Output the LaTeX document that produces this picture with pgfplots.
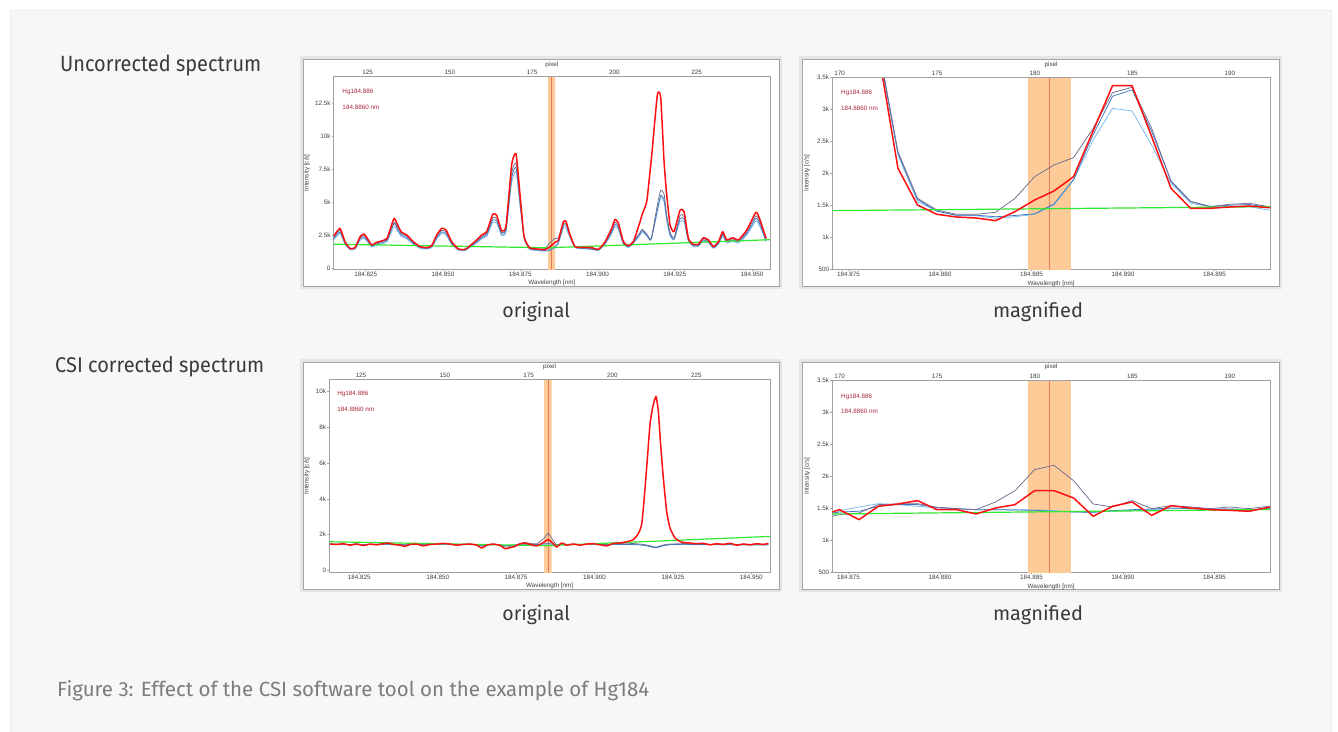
\documentclass[border=0pt]{standalone}
\usepackage{fontspec}
\usepackage{graphicx}
\usepackage{pgfplots}
\pgfplotsset{compat=1.18}
\usepackage{pgfplotstable}
\setmainfont{Fira Sans}
\newfontfamily\headfont{Fira Sans}
\newfontfamily\chartfont{Liberation Sans}
\newcommand\tickfont{\chartfont\fontsize{6.3}{7}\selectfont}

\definecolor{panelbg}{HTML}{F7F7F7}
\definecolor{panelbd}{HTML}{EBEBEB}
\definecolor{shadow}{HTML}{E6E6E6}
\definecolor{framebd}{HTML}{A4A4A4}
\definecolor{axgray}{HTML}{A0A0A0}
\definecolor{tickcol}{HTML}{404040}
\definecolor{headcol}{HTML}{3A3A3A}
\definecolor{capcol}{HTML}{7C7C7C}
\definecolor{hgred}{HTML}{A8283C}
\definecolor{redline}{HTML}{FF1010}
\definecolor{purpleline}{HTML}{716D8E}
\definecolor{steelline}{HTML}{3F78C0}
\definecolor{lightline}{HTML}{78B9EF}
\definecolor{greenline}{HTML}{30E830}
\definecolor{bandcol}{HTML}{FDCB98}
\definecolor{centercol}{HTML}{EF7A5A}

% x = (wavelength - 184.8 nm) * 1000, y in k c/s
\pgfplotstableread{
x r p s l
14.70 2.45 2.36 2.26 2.16
16.69 3.02 2.87 2.74 2.62
18.31 2.00 1.95 1.88 1.80
19.93 1.50 1.50 1.45 1.40
21.55 1.56 1.55 1.50 1.45
23.17 2.39 2.30 2.21 2.11
24.46 2.59 2.48 2.38 2.27
25.86 2.14 2.08 1.99 1.91
26.94 1.76 1.73 1.67 1.61
28.56 1.96 1.91 1.84 1.77
30.72 2.11 2.05 1.97 1.89
32.01 2.31 2.23 2.14 2.05
34.17 3.77 3.47 3.38 3.14
35.57 3.14 2.98 2.84 2.71
36.65 2.72 2.60 2.49 2.38
38.27 2.52 2.42 2.32 2.22
40.43 2.00 1.95 1.88 1.80
42.58 1.64 1.63 1.57 1.51
44.74 1.56 1.55 1.50 1.45
46.36 1.71 1.69 1.63 1.57
47.98 2.52 2.42 2.32 2.22
49.60 3.02 2.87 2.74 2.62
51.00 2.89 2.75 2.63 2.51
52.83 2.00 1.95 1.88 1.80
54.99 1.46 1.46 1.41 1.37
57.15 1.43 1.43 1.39 1.34
58.76 1.71 1.69 1.63 1.57
60.92 2.14 2.08 1.99 1.91
62.54 2.52 2.42 2.32 2.22
64.16 2.77 2.64 2.53 2.42
66.10 4.08 3.82 3.64 3.46
67.39 4.00 3.75 3.58 3.40
69.01 2.82 2.69 2.57 2.46
70.42 3.22 3.05 2.91 2.78
72.25 7.85 7.20 6.85 6.50
73.65 8.65 7.95 7.60 7.30
74.95 5.53 5.20 4.90 4.70
76.24 2.39 2.45 2.35 2.25
77.97 1.56 1.60 1.50 1.45
80.34 1.46 1.45 1.38 1.33
83.04 1.41 1.50 1.35 1.30
84.66 1.64 1.95 1.40 1.35
86.27 1.96 2.25 1.65 1.55
87.35 2.14 2.30 1.95 1.90
88.97 3.52 3.35 3.20 3.05
89.83 3.52 3.38 3.25 3.00
91.13 2.52 2.50 2.40 2.30
92.75 1.64 1.65 1.60 1.55
95.44 1.58 1.55 1.50 1.48
98.14 1.56 1.50 1.45 1.42
100.30 1.43 1.43 1.39 1.34
102.46 2.00 1.95 1.88 1.80
104.61 3.02 2.87 2.74 2.62
105.69 3.70 3.48 3.32 3.16
106.77 3.40 3.21 3.07 2.92
108.39 2.00 1.95 1.88 1.80
110.01 1.71 1.69 1.63 1.57
111.62 2.00 2.05 1.95 1.88
113.78 3.52 2.70 2.60 2.50
114.50 4.10 2.94 2.85 2.75
115.94 5.03 2.60 2.50 2.45
117.00 7.30 2.19 2.15 2.10
117.56 8.55 2.40 2.35 2.30
119.39 13.13 4.80 4.40 4.30
120.47 12.88 5.90 5.50 5.35
121.55 8.05 5.60 5.20 5.00
122.41 5.53 4.00 3.80 3.60
123.49 3.27 2.70 2.55 2.45
124.78 2.77 2.30 2.20 2.15
126.73 4.40 4.00 3.75 3.55
128.02 4.28 3.90 3.70 3.50
129.42 2.26 2.20 2.10 2.05
131.04 1.81 1.78 1.72 1.65
132.66 1.81 1.78 1.72 1.65
134.28 2.31 2.23 2.14 2.05
135.90 2.14 2.08 1.99 1.91
137.51 1.64 1.63 1.57 1.51
139.13 2.00 1.95 1.88 1.80
140.53 2.77 2.64 2.53 2.42
141.83 2.14 2.08 1.99 1.91
143.77 2.31 2.23 2.14 2.05
145.60 2.14 2.08 1.99 1.91
148.30 2.89 2.75 2.63 2.51
151.32 4.23 3.96 3.77 3.58
152.61 3.65 3.44 3.28 3.12
154.56 2.26 2.18 2.10 2.01
}\tlorig

\pgfplotstableread{
x r p s l
74.50 9.00 9.00 8.50 8.00
75.57 6.50 6.80 6.40 6.00
76.63 3.89 4.00 3.97 3.95
77.70 2.075 2.335 2.310 2.283
78.77 1.503 1.607 1.590 1.555
79.83 1.358 1.425 1.405 1.410
80.90 1.316 1.358 1.345 1.337
81.97 1.300 1.358 1.345 1.337
83.03 1.259 1.389 1.320 1.296
84.10 1.400 1.607 1.340 1.321
85.17 1.581 1.945 1.365 1.358
86.23 1.722 2.127 1.520 1.503
87.30 1.945 2.242 1.900 1.893
88.37 2.660 2.699 2.600 2.517
89.43 3.365 3.256 3.200 3.011
90.50 3.365 3.339 3.300 2.970
91.57 2.570 2.699 2.650 2.439
92.63 1.763 1.867 1.880 1.841
93.70 1.451 1.555 1.560 1.530
94.77 1.451 1.477 1.480 1.477
95.83 1.472 1.514 1.500 1.477
96.90 1.488 1.530 1.510 1.477
97.97 1.462 1.477 1.470 1.425
99.03 1.440 1.460 1.450 1.410
}\trmag

\pgfplotstableread{
x r p s l
15.66 1.47 1.49 1.46 1.45
17.79 1.45 1.47 1.45 1.44
19.91 1.49 1.46 1.44 1.45
22.04 1.41 1.44 1.45 1.43
24.16 1.47 1.49 1.46 1.44
26.29 1.39 1.42 1.44 1.45
28.42 1.47 1.45 1.45 1.44
30.54 1.43 1.46 1.44 1.43
32.67 1.49 1.50 1.46 1.45
34.26 1.53 1.49 1.46 1.44
35.86 1.45 1.47 1.45 1.45
37.98 1.41 1.45 1.44 1.44
39.58 1.34 1.41 1.43 1.42
41.17 1.45 1.46 1.45 1.44
43.30 1.47 1.48 1.45 1.45
45.42 1.37 1.43 1.44 1.43
47.55 1.45 1.46 1.45 1.44
49.68 1.47 1.49 1.46 1.45
51.80 1.51 1.50 1.46 1.44
53.93 1.47 1.48 1.45 1.45
56.05 1.41 1.44 1.44 1.43
58.18 1.45 1.47 1.45 1.44
60.31 1.47 1.48 1.45 1.44
62.43 1.41 1.44 1.44 1.43
64.03 1.25 1.35 1.41 1.40
65.62 1.41 1.44 1.44 1.43
67.75 1.47 1.48 1.45 1.44
69.87 1.39 1.42 1.43 1.43
71.47 1.21 1.30 1.38 1.37
73.06 1.27 1.33 1.40 1.39
74.66 1.34 1.40 1.42 1.42
76.25 1.49 1.50 1.46 1.45
77.85 1.53 1.56 1.47 1.46
79.44 1.45 1.50 1.46 1.45
81.57 1.37 1.48 1.45 1.44
83.69 1.56 1.75 1.48 1.46
85.29 1.72 2.09 1.50 1.47
86.88 1.49 1.65 1.47 1.45
87.94 1.30 1.42 1.43 1.43
89.54 1.53 1.52 1.46 1.45
91.13 1.41 1.45 1.44 1.44
93.26 1.47 1.48 1.45 1.45
95.39 1.41 1.44 1.44 1.44
97.51 1.47 1.48 1.45 1.44
99.64 1.49 1.50 1.46 1.45
101.76 1.43 1.46 1.44 1.44
103.89 1.37 1.42 1.43 1.43
106.02 1.51 1.49 1.46 1.45
108.14 1.53 1.50 1.45 1.44
110.27 1.60 1.49 1.45 1.44
112.37 1.72 1.50 1.44 1.44
113.96 2.05 1.48 1.43 1.43
115.03 2.56 1.46 1.42 1.42
115.77 3.87 1.44 1.40 1.40
116.62 5.73 1.42 1.38 1.37
117.69 8.15 1.38 1.34 1.33
118.54 9.12 1.33 1.30 1.29
119.60 9.74 1.30 1.27 1.26
120.35 8.90 1.33 1.30 1.29
121.09 7.03 1.38 1.34 1.33
121.94 5.17 1.42 1.38 1.37
123.00 3.31 1.45 1.42 1.41
124.06 2.37 1.47 1.44 1.43
125.66 1.81 1.48 1.45 1.44
127.25 1.62 1.49 1.45 1.44
128.34 1.56 1.50 1.46 1.44
130.46 1.53 1.49 1.45 1.44
132.59 1.49 1.48 1.45 1.43
134.72 1.51 1.49 1.45 1.44
136.84 1.43 1.45 1.44 1.43
138.97 1.49 1.48 1.44 1.43
141.10 1.45 1.47 1.44 1.42
143.22 1.51 1.49 1.44 1.43
145.35 1.41 1.44 1.43 1.42
147.47 1.47 1.47 1.44 1.42
149.60 1.43 1.45 1.43 1.41
151.73 1.49 1.47 1.44 1.42
153.85 1.45 1.46 1.43 1.41
155.45 1.51 1.48 1.44 1.42
}\blorig

\pgfplotstableread{
x r p s l
73.43 1.375 1.33 1.40 1.29
74.50 1.478 1.40 1.44 1.46
75.57 1.322 1.426 1.452 1.519
76.63 1.530 1.556 1.530 1.571
77.70 1.566 1.566 1.556 1.556
78.77 1.618 1.571 1.556 1.530
79.83 1.478 1.514 1.514 1.503
80.90 1.478 1.493 1.493 1.493
81.97 1.410 1.477 1.477 1.477
83.03 1.503 1.597 1.477 1.477
84.10 1.556 1.774 1.472 1.477
85.17 1.774 2.102 1.467 1.472
86.23 1.774 2.169 1.452 1.462
87.30 1.660 1.930 1.441 1.441
88.37 1.374 1.566 1.436 1.436
89.43 1.530 1.519 1.462 1.452
90.50 1.597 1.618 1.477 1.467
91.57 1.389 1.493 1.488 1.477
92.63 1.540 1.540 1.503 1.493
93.70 1.503 1.519 1.493 1.503
94.77 1.477 1.493 1.477 1.493
95.83 1.467 1.519 1.477 1.493
96.90 1.452 1.493 1.467 1.477
97.97 1.514 1.530 1.493 1.503
99.03 1.530 1.550 1.500 1.510
}\brmag

\tikzset{hgtxt/.style={anchor=west, font=\chartfont\fontsize{6.3}{7}\selectfont, text=hgred, inner sep=0pt}}

\pgfplotsset{
  specbase/.style={
    scale only axis, anchor=south west,
    axis line style={draw=axgray, line width=0.6pt},
    tick style={draw=axgray, line width=0.5pt},
    major tick length=2pt, tick align=outside,
    xtick pos=lower, ytick pos=left,
    tick label style={font=\tickfont, text=tickcol},
    xticklabel style={inner sep=1pt},
    yticklabel style={inner sep=1pt},
    label style={font=\tickfont, text=tickcol},
    xlabel={Wavelength [nm]}, ylabel={Intensity [c/s]},
    axis background/.style={fill=white},
    every axis plot/.append style={line join=round},
  },
  origx/.style={xtick={25,50,75,100,125,150},
    xticklabels={184.825,184.850,184.875,184.900,184.925,184.950}},
  magx/.style={xmin=74.11, xmax=98.04, ymin=0.5, ymax=3.5,
    xtick={75,80,85,90,95},
    xticklabels={184.875,184.880,184.885,184.890,184.895},
    ytick={0.5,1,1.5,2,2.5,3,3.5},
    yticklabels={500,1k,1.5k,2k,2.5k,3k,3.5k}},
  pixaxis/.style={scale only axis, anchor=south west,
    axis x line*=top, hide y axis, ymin=0, ymax=1,
    axis line style={draw=axgray, line width=0.6pt, -},
    tick style={draw=none},
    tick label style={font=\tickfont, text=tickcol},
    xticklabel style={inner sep=1pt},
    label style={font=\tickfont, text=tickcol},
    xlabel={pixel}},
  pixorig/.style={xtick={125,150,175,200,225}, xticklabels={125,150,175,200,225}},
  pixmag/.style={xtick={170,175,180,185,190}, xticklabels={170,175,180,185,190}},
  redl/.style={redline, line width=1.5pt},
  purl/.style={purpleline, line width=0.75pt},
  stel/.style={steelline, line width=0.75pt},
  ligl/.style={lightline, line width=0.75pt},
  grel/.style={greenline, line width=1.2pt},
  sm/.style={smooth, tension=0.3},
  bandp/.style={fill=bandcol, draw=none},
  cenl/.style={centercol, line width=1pt},
}

\begin{document}
\begin{tikzpicture}
\useasboundingbox (0,0) rectangle (1338pt,-731pt);
\fill[white] (0,0) rectangle (1338pt,-731pt);
\filldraw[fill=panelbg, draw=panelbd, line width=1pt] (10pt,-10pt) rectangle (1331pt,-735pt);

% frames
\foreach \xa/\ya/\xb/\yb in {303/59/779/286, 802/59/1279/286, 303/362/779/589, 802/362/1279/589}{
  \fill[shadow] (\xa pt-3pt,-\ya pt+3pt) rectangle (\xb pt+3pt,-\yb pt-3pt);
  \filldraw[fill=white, draw=framebd, line width=0.8pt] (\xa pt,-\ya pt) rectangle (\xb pt,-\yb pt);
}

% headings
\node[anchor=base west, inner sep=0pt, text=headcol] at (60pt,-71.7pt)
  {\resizebox{201pt}{16.5pt}{\headfont\fontsize{22}{26}\selectfont Uncorrected spectrum}};
\node[anchor=base west, inner sep=0pt, text=headcol] at (55pt,-372.3pt)
  {\resizebox{209pt}{16pt}{\headfont\fontsize{22}{26}\selectfont CSI corrected spectrum}};
\node[anchor=base, inner sep=0pt, text=headcol] at (536.2pt,-317pt)
  {\resizebox{67.7pt}{15.5pt}{\headfont\fontsize{22}{26}\selectfont original}};
\node[anchor=base, inner sep=0pt, text=headcol] at (1038pt,-317pt)
  {\resizebox{90pt}{15.5pt}{\headfont\fontsize{22}{26}\selectfont magnified}};
\node[anchor=base, inner sep=0pt, text=headcol] at (536.2pt,-620pt)
  {\resizebox{67.7pt}{15.5pt}{\headfont\fontsize{22}{26}\selectfont original}};
\node[anchor=base, inner sep=0pt, text=headcol] at (1038pt,-620pt)
  {\resizebox{90pt}{15.5pt}{\headfont\fontsize{22}{26}\selectfont magnified}};
\node[anchor=base west, inner sep=0pt, text=capcol] at (57pt,-696.7pt)
  {\resizebox{592pt}{16pt}{\headfont\fontsize{22}{26}\selectfont Figure 3: Effect of the CSI software tool on the example of Hg184}};

% ---------- top left: uncorrected original ----------
\begin{axis}[specbase, origx, at={(333.7pt,-269.3pt)}, width=436.3pt, height=193.3pt,
  xmin=14.64, xmax=155.83, ymin=-0.075, ymax=14.52,
  ytick={0,2.5,5,7.5,10,12.5}, yticklabels={0,2.5k,5k,7.5k,10k,12.5k},
  xlabel style={at={(axis description cs:0.5,-0.069)}, anchor=center},
  ylabel style={at={(axis description cs:-0.0612,0.5)}, anchor=center}]
  \addplot[bandp] coordinates {(84.00,-1) (86.26,-1) (86.26,20) (84.00,20) (84.00,-1)};
  \addplot[cenl] coordinates {(85.13,-1) (85.13,20)};
  \addplot[ligl, sm] table[x=x,y=l]{\tlorig};
  \addplot[stel, sm] table[x=x,y=s]{\tlorig};
  \addplot[purl, sm] table[x=x,y=p]{\tlorig};
  \addplot[grel] coordinates {(14.64,1.82) (84.0,1.55) (155.83,2.16)};
  \addplot[redl, sm] table[x=x,y=r]{\tlorig};
  \node[hgtxt] at (rel axis cs:0.0197,0.917) {Hg184.886};
  \node[hgtxt] at (rel axis cs:0.0197,0.839) {184.8860 nm};
\end{axis}
\begin{axis}[pixaxis, pixorig, at={(333.7pt,-269.3pt)}, width=436.3pt, height=193.3pt,
  xmin=114.67, xmax=247.28,
  xlabel style={at={(axis description cs:0.5,1.057)}, anchor=center}]
  \addplot[draw=none] coordinates {(120,0.5)};
\end{axis}

% ---------- top right: uncorrected magnified ----------
\begin{axis}[specbase, magx, at={(832.3pt,-269.3pt)}, width=437.7pt, height=192.3pt,
  xlabel style={at={(axis description cs:0.5,-0.075)}, anchor=center},
  ylabel style={at={(axis description cs:-0.0578,0.5)}, anchor=center}]
  \addplot[bandp] coordinates {(84.80,0) (87.15,0) (87.15,5) (84.80,5) (84.80,0)};
  \addplot[cenl] coordinates {(86.00,0) (86.00,5)};
  \addplot[ligl] table[x=x,y=l]{\trmag};
  \addplot[stel] table[x=x,y=s]{\trmag};
  \addplot[purl] table[x=x,y=p]{\trmag};
  \addplot[grel] coordinates {(74.11,1.415) (98.04,1.477)};
  \addplot[redl] table[x=x,y=r]{\trmag};
  \node[hgtxt] at (rel axis cs:0.0199,0.915) {Hg184.886};
  \node[hgtxt] at (rel axis cs:0.0199,0.837) {184.8860 nm};
\end{axis}
\begin{axis}[pixaxis, pixmag, at={(832.3pt,-269.3pt)}, width=437.7pt, height=192.3pt,
  xmin=169.63, xmax=192.05,
  xlabel style={at={(axis description cs:0.5,1.062)}, anchor=center}]
  \addplot[draw=none] coordinates {(180,0.5)};
\end{axis}

% ---------- bottom left: corrected original ----------
\begin{axis}[specbase, origx, at={(329.3pt,-572.3pt)}, width=440.7pt, height=193.3pt,
  xmin=15.43, xmax=155.96, ymin=-0.11, ymax=10.71,
  ytick={0,2,4,6,8,10}, yticklabels={0,2k,4k,6k,8k,10k},
  xlabel style={at={(axis description cs:0.5,-0.069)}, anchor=center},
  ylabel style={at={(axis description cs:-0.0506,0.5)}, anchor=center}]
  \addplot[bandp] coordinates {(83.90,-1) (86.35,-1) (86.35,20) (83.90,20) (83.90,-1)};
  \addplot[cenl] coordinates {(85.17,-1) (85.17,20)};
  \addplot[ligl] table[x=x,y=l]{\blorig};
  \addplot[stel] table[x=x,y=s]{\blorig};
  \addplot[purl] table[x=x,y=p]{\blorig};
  \addplot[grel] coordinates {(15.43,1.60) (84.7,1.38) (155.96,1.90)};
  \addplot[redl, sm] table[x=x,y=r]{\blorig};
  \node[hgtxt] at (rel axis cs:0.018,0.924) {Hg184.886};
  \node[hgtxt] at (rel axis cs:0.018,0.842) {184.8860 nm};
\end{axis}
\begin{axis}[pixaxis, pixorig, at={(329.3pt,-572.3pt)}, width=440.7pt, height=193.3pt,
  xmin=115.55, xmax=246.98,
  xlabel style={at={(axis description cs:0.5,1.061)}, anchor=center}]
  \addplot[draw=none] coordinates {(120,0.5)};
\end{axis}

% ---------- bottom right: corrected magnified ----------
\begin{axis}[specbase, magx, at={(832.3pt,-572.3pt)}, width=437.7pt, height=192.3pt,
  xlabel style={at={(axis description cs:0.5,-0.075)}, anchor=center},
  ylabel style={at={(axis description cs:-0.057,0.5)}, anchor=center}]
  \addplot[bandp] coordinates {(84.80,0) (87.15,0) (87.15,5) (84.80,5) (84.80,0)};
  \addplot[cenl] coordinates {(86.00,0) (86.00,5)};
  \addplot[ligl] table[x=x,y=l]{\brmag};
  \addplot[stel] table[x=x,y=s]{\brmag};
  \addplot[purl] table[x=x,y=p]{\brmag};
  \addplot[grel] coordinates {(74.11,1.41) (98.04,1.48)};
  \addplot[redl] table[x=x,y=r]{\brmag};
  \node[hgtxt] at (rel axis cs:0.0199,0.914) {Hg184.886};
  \node[hgtxt] at (rel axis cs:0.0199,0.836) {184.8860 nm};
\end{axis}
\begin{axis}[pixaxis, pixmag, at={(832.3pt,-572.3pt)}, width=437.7pt, height=192.3pt,
  xmin=169.63, xmax=192.05,
  xlabel style={at={(axis description cs:0.5,1.066)}, anchor=center}]
  \addplot[draw=none] coordinates {(180,0.5)};
\end{axis}
\end{tikzpicture}
\end{document}
